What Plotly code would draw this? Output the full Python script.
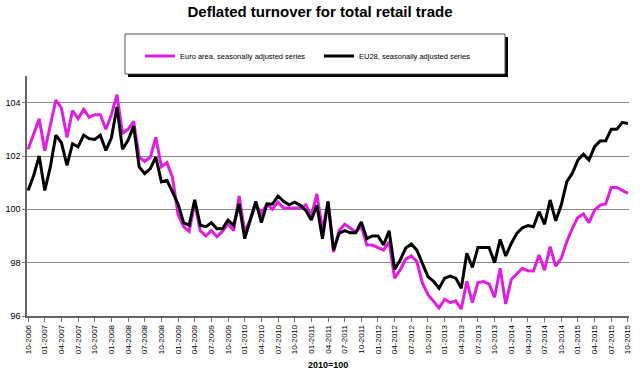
import plotly.graph_objects as go

# Monthly categories 10-2006 .. 10-2015
months = [f"{m:02d}-{y}" for y in range(2006, 2016) for m in range(1, 13)]
months = months[months.index("10-2006"):months.index("10-2015") + 1]
tick_labels = months[::3]

euro_area = [
    102.25, 102.8, 103.4, 102.2, 103.15, 104.1, 103.8, 102.7, 103.7, 103.4,
    103.75, 103.45, 103.55, 103.55, 103.0, 103.55, 104.3, 102.85, 103.0, 103.3,
    101.95, 101.8, 101.95, 102.7, 101.6, 101.75, 101.2, 99.8, 99.35, 99.17,
    100.25, 99.2, 99.0, 99.2, 98.98, 99.17, 99.46, 99.2, 100.5, 99.15,
    99.6, 100.2, 99.84, 100.2, 100.0, 100.27, 100.05, 100.05, 100.06, 100.05,
    100.17, 99.75, 100.58, 99.2, 100.27, 98.4, 99.2, 99.44, 99.3, 99.15,
    99.36, 98.66, 98.66, 98.57, 98.47, 98.78, 97.42, 97.73, 98.13, 98.25,
    98.04, 97.24, 96.8, 96.55, 96.3, 96.63, 96.5, 96.57, 96.26, 97.3,
    96.5, 97.25, 97.29, 97.2, 96.7, 97.79, 96.45, 97.37, 97.57, 97.79,
    97.7, 97.69, 98.29, 97.72, 98.6, 97.87, 98.16, 98.79, 99.29, 99.7,
    99.82, 99.5, 99.97, 100.16, 100.2, 100.82, 100.82, 100.7, 100.6,
]

eu28 = [
    100.71, 101.27, 102.0, 100.71, 101.59, 102.78, 102.5, 101.65, 102.46, 102.34,
    102.78, 102.65, 102.62, 102.78, 102.21, 102.68, 103.84, 102.25, 102.59, 103.12,
    101.59, 101.34, 101.53, 101.96, 101.03, 101.09, 100.65, 100.2, 99.5, 99.4,
    100.36, 99.4, 99.35, 99.5, 99.27, 99.27, 99.6, 99.4, 100.2, 98.9,
    99.6, 100.3, 99.5, 100.2, 100.2, 100.5, 100.3, 100.17, 100.27, 100.15,
    99.96, 99.6, 100.15, 98.9, 100.3, 98.47, 99.1, 99.2, 99.12, 99.12,
    99.53, 98.9, 99.0, 99.0, 98.66, 99.2, 97.75, 98.1, 98.55, 98.7,
    98.47, 97.98, 97.48, 97.3, 97.04, 97.42, 97.5, 97.42, 97.04, 98.35,
    97.82, 98.57, 98.57, 98.57, 98.0, 98.87, 98.25, 98.72, 99.1, 99.31,
    99.39, 99.35, 99.91, 99.44, 100.35, 99.57, 100.16, 101.04, 101.35, 101.85,
    102.07, 101.85, 102.35, 102.56, 102.57, 103.0, 103.0, 103.26, 103.22,
]

FONT = "Liberation Sans, Arial, sans-serif"
W, H = 640, 372
L, R, T, B = 27, 11, 76, 56
pw, ph = W - L - R, H - T - B


def px(x):
    return (x - L) / pw


def py(y):
    return (H - B - y) / ph


fig = go.Figure()
fig.add_trace(go.Scatter(x=months, y=euro_area, mode="lines",
                         name="Euro area, seasonally adjusted series",
                         line=dict(color="#E21DE2", width=3)))
fig.add_trace(go.Scatter(x=months, y=eu28, mode="lines",
                         name="EU28, seasonally adjusted series",
                         line=dict(color="#000000", width=3)))

# legend frame with shadow
fig.add_shape(type="rect", xref="paper", yref="paper",
              x0=px(128), x1=px(508), y0=py(77), y1=py(37),
              fillcolor="black", line=dict(width=0), layer="above")
fig.add_shape(type="rect", xref="paper", yref="paper",
              x0=px(125), x1=px(505), y0=py(74), y1=py(34),
              fillcolor="white", line=dict(color="#555555", width=1), layer="above")

fig.add_annotation(text="<b>2010=100</b>", xref="paper", yref="paper",
                   x=px(328), y=py(365), xanchor="center", yanchor="middle",
                   showarrow=False,
                   font=dict(family=FONT, size=9, color="black"))

fig.update_layout(
    width=W, height=H,
    margin=dict(l=L, r=R, t=T, b=B, autoexpand=False),
    paper_bgcolor="white", plot_bgcolor="white",
    font=dict(family=FONT, color="black"),
    title=dict(text="<b>Deflated turnover for total retail trade</b>",
               x=0.5, xanchor="center", y=1 - 12 / H, yanchor="middle",
               font=dict(family=FONT, size=15, color="black")),
    showlegend=True,
    legend=dict(orientation="h", x=px(140), xanchor="left",
                y=py(56), yanchor="middle", bgcolor="rgba(0,0,0,0)",
                borderwidth=0, entrywidth=134, entrywidthmode="pixels",
                font=dict(family=FONT, size=7.5, color="black")),
    xaxis=dict(type="category", range=[-0.2, 108.2],
               tickmode="array", tickvals=tick_labels, ticktext=tick_labels,
               tickangle=-90, tickfont=dict(family=FONT, size=8, color="black"),
               ticks="outside", ticklen=4, tickcolor="#777777",
               showgrid=False, showline=True, linecolor="#666666", linewidth=1.5),
    yaxis=dict(range=[96, 105], tickvals=[96, 98, 100, 102, 104],
               tickfont=dict(family=FONT, size=9, color="black"),
               ticks="outside", ticklen=3, tickcolor="#777777",
               showgrid=True, gridcolor="#8a8a8a", gridwidth=1,
               showline=True, linecolor="#666666", linewidth=1.5, zeroline=False),
)

fig.write_html("out.html", config={"displayModeBar": False},
               post_script="document.body.style.margin='0';document.body.style.overflow='hidden';")
